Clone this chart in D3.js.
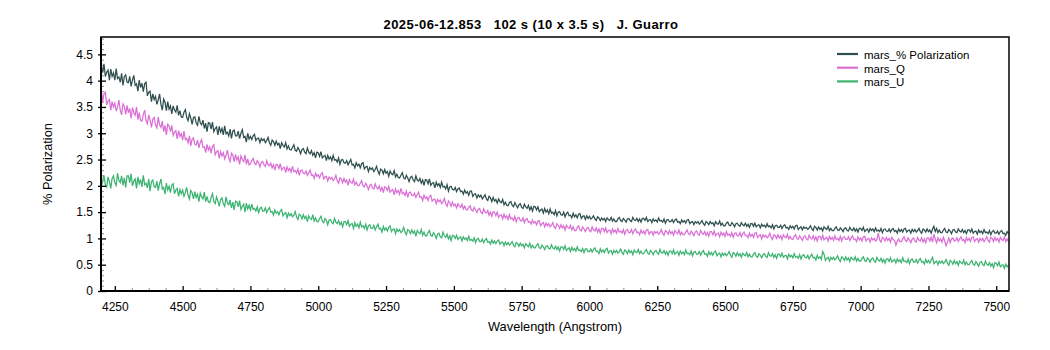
<!DOCTYPE html>
<html>
<head>
<meta charset="utf-8">
<script src="https://cdn.jsdelivr.net/npm/d3@7/dist/d3.min.js"></script>
<style>
  html, body { margin: 0; padding: 0; background: #ffffff; }
  svg { display: block; }
  text { font-family: "Liberation Sans", Arial, sans-serif; fill: #000; }
</style>
</head>
<body>
<svg id="chart" width="1050" height="350"></svg>
<script>
// ---------------- DATA ----------------
const titleText = "2025-06-12.853   102 s (10 x 3.5 s)   J. Guarro";
const xTitle = "Wavelength (Angstrom)";
const yTitle = "% Polarization";
const seriesNames = ["mars_% Polarization", "mars_Q", "mars_U"];
const wlStart = 4200;   // first sample wavelength (Angstrom)
const wlStep = 5;       // sampling step (Angstrom); one row below = 50 Angstrom

const polValues = [
  4.29,4.15,4.32,4.08,4.16,4.20,4.01,4.22,4.08,4.15,
  4.01,4.23,4.04,4.07,3.97,4.14,3.91,4.08,4.11,3.97,
  3.96,4.08,3.89,4.01,4.10,3.91,3.94,3.80,4.01,3.87,
  3.95,3.79,3.94,3.97,3.71,3.78,3.80,3.60,3.75,3.64,
  3.70,3.55,3.63,3.75,3.55,3.44,3.65,3.59,3.43,3.60,
  3.46,3.52,3.37,3.52,3.44,3.40,3.53,3.34,3.43,3.31,
  3.30,3.40,3.45,3.30,3.24,3.37,3.29,3.17,3.30,3.31,
  3.19,3.15,3.32,3.20,3.16,3.25,3.09,3.19,3.03,3.20,
  3.19,3.08,3.21,3.03,3.09,3.12,2.97,3.13,3.02,3.09,
  2.97,3.14,2.99,3.02,2.95,3.08,2.90,3.04,3.06,2.95,
  2.95,3.04,2.90,3.00,3.07,2.92,2.94,2.83,3.00,2.89,
  2.94,2.88,2.95,2.98,2.86,2.90,2.91,2.82,2.90,2.86,
  2.89,2.82,2.86,2.92,2.82,2.77,2.87,2.84,2.77,2.85,
  2.78,2.81,2.71,2.82,2.77,2.74,2.82,2.70,2.76,2.69,
  2.68,2.73,2.78,2.68,2.66,2.73,2.68,2.61,2.69,2.71,
  2.64,2.61,2.72,2.64,2.61,2.67,2.58,2.63,2.53,2.64,
  2.63,2.56,2.65,2.53,2.56,2.58,2.48,2.58,2.51,2.55,
  2.48,2.58,2.49,2.50,2.45,2.53,2.41,2.49,2.50,2.44,
  2.43,2.48,2.40,2.45,2.50,2.40,2.41,2.34,2.44,2.38,
  2.41,2.34,2.42,2.44,2.32,2.36,2.37,2.27,2.35,2.31,
  2.34,2.27,2.31,2.37,2.28,2.22,2.32,2.30,2.23,2.31,
  2.24,2.27,2.18,2.28,2.23,2.21,2.29,2.17,2.22,2.16,
  2.15,2.20,2.25,2.15,2.13,2.20,2.15,2.08,2.16,2.18,
  2.11,2.08,2.19,2.11,2.09,2.14,2.05,2.11,2.01,2.12,
  2.11,2.04,2.13,2.01,2.05,2.06,1.96,2.07,2.00,2.04,
  1.97,2.07,1.98,1.99,1.94,2.02,1.90,1.98,1.99,1.93,
  1.92,1.97,1.89,1.94,1.96,1.89,1.90,1.84,1.92,1.86,
  1.89,1.82,1.90,1.90,1.80,1.84,1.85,1.77,1.83,1.79,
  1.82,1.75,1.79,1.83,1.75,1.72,1.80,1.77,1.70,1.78,
  1.71,1.74,1.67,1.75,1.70,1.68,1.74,1.64,1.69,1.63,
  1.62,1.68,1.70,1.63,1.60,1.68,1.63,1.58,1.64,1.66,
  1.59,1.57,1.65,1.60,1.57,1.63,1.54,1.60,1.52,1.61,
  1.60,1.54,1.60,1.51,1.54,1.56,1.48,1.57,1.50,1.54,
  1.47,1.56,1.48,1.50,1.45,1.53,1.43,1.50,1.51,1.45,
  1.44,1.50,1.41,1.47,1.50,1.43,1.44,1.39,1.48,1.41,
  1.45,1.39,1.46,1.47,1.38,1.42,1.43,1.36,1.43,1.38,
  1.42,1.37,1.39,1.43,1.37,1.34,1.41,1.39,1.34,1.39,
  1.35,1.38,1.32,1.39,1.36,1.34,1.40,1.33,1.37,1.32,
  1.32,1.37,1.40,1.34,1.32,1.38,1.35,1.31,1.37,1.38,
  1.34,1.32,1.40,1.35,1.34,1.38,1.32,1.37,1.31,1.38,
  1.38,1.34,1.40,1.32,1.35,1.36,1.30,1.37,1.33,1.35,
  1.31,1.39,1.33,1.34,1.31,1.37,1.29,1.35,1.36,1.32,
  1.32,1.36,1.30,1.35,1.37,1.31,1.32,1.28,1.35,1.31,
  1.34,1.29,1.35,1.36,1.28,1.31,1.32,1.26,1.32,1.29,
  1.32,1.27,1.30,1.34,1.28,1.25,1.32,1.30,1.26,1.32,
  1.28,1.30,1.24,1.32,1.28,1.27,1.33,1.25,1.29,1.24,
  1.24,1.29,1.31,1.25,1.24,1.30,1.27,1.22,1.28,1.29,
  1.25,1.23,1.30,1.26,1.24,1.29,1.23,1.27,1.21,1.28,
  1.28,1.23,1.29,1.22,1.25,1.26,1.20,1.27,1.23,1.25,
  1.21,1.28,1.22,1.24,1.20,1.26,1.18,1.24,1.25,1.21,
  1.21,1.25,1.19,1.24,1.26,1.20,1.21,1.17,1.24,1.20,
  1.23,1.18,1.24,1.25,1.17,1.20,1.22,1.16,1.22,1.19,
  1.21,1.17,1.20,1.24,1.18,1.15,1.23,1.21,1.16,1.22,
  1.17,1.20,1.14,1.22,1.19,1.17,1.23,1.15,1.19,1.15,
  1.15,1.19,1.22,1.16,1.15,1.20,1.17,1.13,1.19,1.20,
  1.15,1.14,1.21,1.17,1.15,1.20,1.14,1.18,1.12,1.19,
  1.19,1.15,1.21,1.13,1.16,1.18,1.12,1.19,1.15,1.18,
  1.13,1.20,1.14,1.16,1.13,1.19,1.11,1.17,1.18,1.14,
  1.13,1.18,1.12,1.17,1.19,1.13,1.15,1.10,1.18,1.13,
  1.17,1.12,1.18,1.19,1.12,1.15,1.16,1.10,1.17,1.13,
  1.17,1.12,1.15,1.19,1.13,1.10,1.18,1.16,1.12,1.18,
  1.13,1.16,1.10,1.18,1.23,1.13,1.19,1.11,1.16,1.11,
  1.11,1.16,1.19,1.12,1.11,1.17,1.14,1.09,1.16,1.17,
  1.12,1.11,1.18,1.14,1.12,1.17,1.11,1.15,1.09,1.16,
  1.16,1.12,1.18,1.10,1.13,1.14,1.08,1.16,1.11,1.14,
  1.09,1.17,1.11,1.12,1.09,1.15,1.07,1.13,1.15,1.10,
  1.10,1.14,1.08,1.13,1.15,1.09,1.10,1.06,1.13,1.09
];

const qValues = [
  3.85,3.59,3.75,3.78,3.54,3.61,3.64,3.44,3.60,3.50,
  3.57,3.42,3.50,3.63,3.44,3.35,3.56,3.51,3.36,3.53,
  3.39,3.47,3.28,3.49,3.39,3.34,3.50,3.26,3.39,3.24,
  3.23,3.36,3.44,3.24,3.18,3.35,3.25,3.11,3.27,3.30,
  3.16,3.10,3.31,3.16,3.11,3.23,3.03,3.15,2.97,3.17,
  3.14,3.03,3.15,2.96,3.02,3.05,2.89,3.05,2.94,2.99,
  2.87,3.04,2.88,2.90,2.82,2.95,2.76,2.89,2.91,2.79,
  2.78,2.87,2.72,2.82,2.88,2.73,2.74,2.63,2.79,2.68,
  2.74,2.62,2.75,2.78,2.59,2.65,2.67,2.52,2.65,2.57,
  2.63,2.51,2.58,2.68,2.53,2.46,2.62,2.58,2.46,2.60,
  2.49,2.55,2.41,2.57,2.50,2.46,2.59,2.41,2.51,2.40,
  2.42,2.48,2.52,2.43,2.40,2.48,2.44,2.36,2.45,2.46,
  2.40,2.37,2.48,2.40,2.38,2.43,2.34,2.40,2.30,2.41,
  2.40,2.33,2.42,2.30,2.34,2.35,2.25,2.36,2.29,2.33,
  2.26,2.37,2.27,2.29,2.24,2.32,2.20,2.29,2.30,2.24,
  2.23,2.28,2.20,2.25,2.30,2.20,2.21,2.14,2.24,2.18,
  2.21,2.15,2.22,2.25,2.13,2.17,2.18,2.09,2.17,2.13,
  2.16,2.10,2.13,2.20,2.10,2.05,2.15,2.13,2.06,2.14,
  2.07,2.11,2.01,2.12,2.07,2.05,2.13,2.02,2.07,2.01,
  2.00,2.05,2.10,2.00,1.98,2.05,2.00,1.93,2.01,2.03,
  1.96,1.94,2.04,1.97,1.94,2.00,1.91,1.97,1.87,1.98,
  1.97,1.91,1.99,1.88,1.91,1.93,1.83,1.94,1.87,1.91,
  1.84,1.95,1.85,1.87,1.82,1.90,1.78,1.87,1.88,1.82,
  1.81,1.86,1.78,1.83,1.88,1.78,1.79,1.72,1.82,1.76,
  1.79,1.72,1.80,1.82,1.71,1.74,1.75,1.66,1.74,1.70,
  1.73,1.66,1.70,1.76,1.66,1.61,1.71,1.68,1.61,1.69,
  1.62,1.65,1.58,1.66,1.62,1.59,1.65,1.56,1.61,1.55,
  1.54,1.59,1.62,1.54,1.52,1.59,1.54,1.49,1.55,1.57,
  1.50,1.47,1.56,1.50,1.48,1.53,1.44,1.50,1.42,1.51,
  1.50,1.43,1.50,1.40,1.44,1.45,1.37,1.46,1.39,1.43,
  1.36,1.45,1.37,1.39,1.34,1.42,1.32,1.39,1.40,1.34,
  1.33,1.39,1.30,1.36,1.38,1.31,1.32,1.27,1.35,1.29,
  1.32,1.26,1.33,1.34,1.24,1.28,1.30,1.22,1.29,1.24,
  1.28,1.22,1.25,1.30,1.22,1.19,1.28,1.25,1.19,1.26,
  1.20,1.24,1.16,1.25,1.21,1.19,1.25,1.16,1.22,1.15,
  1.15,1.21,1.24,1.16,1.14,1.22,1.18,1.13,1.19,1.21,
  1.15,1.13,1.22,1.16,1.14,1.20,1.12,1.18,1.10,1.19,
  1.19,1.13,1.20,1.11,1.15,1.16,1.09,1.18,1.12,1.16,
  1.10,1.19,1.12,1.14,1.10,1.17,1.08,1.15,1.17,1.11,
  1.11,1.17,1.09,1.15,1.18,1.11,1.12,1.07,1.16,1.10,
  1.14,1.08,1.16,1.17,1.08,1.12,1.13,1.06,1.13,1.10,
  1.13,1.08,1.11,1.17,1.09,1.06,1.15,1.13,1.08,1.15,
  1.09,1.13,1.06,1.15,1.11,1.09,1.16,1.07,1.12,1.07,
  1.07,1.12,1.16,1.09,1.07,1.14,1.10,1.05,1.12,1.14,
  1.08,1.06,1.15,1.10,1.08,1.13,1.06,1.11,1.04,1.13,
  1.13,1.07,1.14,1.05,1.09,1.10,1.03,1.12,1.06,1.10,
  1.04,1.13,1.06,1.08,1.04,1.11,1.02,1.09,1.11,1.05,
  1.05,1.11,1.03,1.09,1.12,1.05,1.06,1.01,1.10,1.04,
  1.08,1.02,1.10,1.11,1.02,1.05,1.07,0.99,1.07,1.03,
  1.06,1.01,1.04,1.10,1.02,0.98,1.07,1.05,1.00,1.07,
  1.01,1.05,0.98,1.07,1.03,1.01,1.08,0.99,1.04,0.99,
  0.98,1.04,1.07,1.00,0.98,1.05,1.01,0.96,1.03,1.05,
  0.99,0.97,1.06,1.01,0.99,1.05,0.97,1.03,0.95,1.04,
  1.04,0.98,1.06,0.97,1.00,1.02,0.95,1.04,0.98,1.02,
  0.96,1.05,0.98,1.00,0.96,1.04,0.95,1.02,1.03,0.98,
  0.98,1.03,0.96,1.01,1.05,0.98,0.99,0.94,1.03,0.97,
  1.01,0.95,1.03,1.04,0.95,0.99,1.00,0.93,1.01,0.97,
  1.00,0.95,0.98,1.10,0.97,0.93,1.02,1.00,0.95,1.02,
  0.96,1.00,0.93,1.02,0.98,0.96,0.87,0.94,0.99,0.94,
  0.94,0.99,1.03,0.96,0.94,1.01,0.97,0.92,0.99,1.01,
  0.95,0.93,1.02,0.97,0.95,1.01,0.93,0.99,0.92,1.01,
  1.01,0.95,1.02,0.93,1.08,0.99,0.92,1.01,0.95,0.99,
  0.93,1.02,0.95,0.86,0.93,1.01,0.92,0.99,1.01,0.95,
  0.96,1.01,0.94,0.99,1.03,0.96,0.98,0.92,1.02,0.96,
  1.00,0.94,1.02,1.03,0.94,0.98,1.00,0.93,1.00,0.96,
  1.00,0.94,0.98,1.03,0.96,0.93,1.02,1.00,0.94,1.02,
  0.96,1.00,0.93,1.02,0.98,0.96,1.03,0.94,0.99,0.94
];

const uValues = [
  1.96,2.10,2.20,2.02,1.98,2.17,2.08,1.95,2.14,2.19,
  2.06,2.01,2.24,2.10,2.06,2.19,2.01,2.15,1.97,2.19,
  2.19,2.06,2.23,2.00,2.09,2.13,1.95,2.17,2.04,2.12,
  1.98,2.20,2.02,2.05,1.96,2.13,1.90,2.08,2.11,1.98,
  1.97,2.09,1.91,2.04,2.13,1.94,1.97,1.84,2.05,1.92,
  1.99,1.87,2.01,2.04,1.85,1.92,1.95,1.80,1.93,1.85,
  1.92,1.80,1.87,1.97,1.82,1.75,1.91,1.87,1.75,1.89,
  1.78,1.84,1.70,1.86,1.79,1.75,1.88,1.70,1.80,1.69,
  1.68,1.78,1.85,1.70,1.66,1.79,1.71,1.61,1.74,1.77,
  1.66,1.61,1.79,1.67,1.64,1.73,1.58,1.69,1.54,1.71,
  1.70,1.60,1.72,1.55,1.61,1.65,1.50,1.67,1.56,1.63,
  1.54,1.65,1.55,1.57,1.52,1.60,1.49,1.57,1.59,1.52,
  1.52,1.58,1.49,1.55,1.59,1.50,1.51,1.44,1.54,1.48,
  1.51,1.45,1.52,1.55,1.43,1.47,1.49,1.39,1.48,1.43,
  1.47,1.41,1.44,1.51,1.41,1.36,1.46,1.44,1.37,1.45,
  1.38,1.42,1.32,1.43,1.38,1.36,1.45,1.33,1.39,1.32,
  1.32,1.38,1.42,1.33,1.30,1.38,1.34,1.26,1.35,1.36,
  1.30,1.28,1.38,1.31,1.28,1.34,1.26,1.31,1.22,1.32,
  1.32,1.26,1.34,1.23,1.27,1.28,1.19,1.30,1.23,1.27,
  1.20,1.31,1.22,1.24,1.19,1.27,1.16,1.24,1.26,1.19,
  1.19,1.25,1.16,1.22,1.27,1.18,1.19,1.12,1.23,1.16,
  1.20,1.14,1.21,1.24,1.13,1.17,1.18,1.09,1.18,1.13,
  1.17,1.11,1.14,1.21,1.12,1.07,1.17,1.15,1.09,1.16,
  1.10,1.14,1.04,1.15,1.11,1.09,1.17,1.06,1.12,1.05,
  1.05,1.11,1.15,1.06,1.04,1.11,1.07,1.00,1.08,1.10,
  1.03,1.01,1.12,1.05,1.02,1.08,0.99,1.05,0.96,1.06,
  1.05,1.00,1.06,0.98,1.01,1.03,0.95,1.03,0.98,1.01,
  0.96,1.04,0.96,0.98,0.95,1.01,0.92,0.99,1.00,0.94,
  0.94,0.99,0.92,0.97,1.00,0.93,0.94,0.89,0.97,0.91,
  0.95,0.90,0.95,0.97,0.89,0.92,0.93,0.86,0.93,0.88,
  0.92,0.87,0.90,0.94,0.87,0.84,0.92,0.90,0.85,0.91,
  0.86,0.89,0.82,0.90,0.87,0.84,0.91,0.82,0.87,0.82,
  0.82,0.87,0.90,0.82,0.81,0.87,0.84,0.79,0.85,0.86,
  0.81,0.80,0.88,0.82,0.80,0.85,0.79,0.84,0.76,0.84,
  0.84,0.79,0.86,0.77,0.80,0.82,0.75,0.83,0.77,0.81,
  0.76,0.84,0.77,0.78,0.75,0.81,0.73,0.80,0.80,0.75,
  0.75,0.80,0.74,0.79,0.82,0.75,0.76,0.71,0.80,0.74,
  0.78,0.73,0.79,0.81,0.72,0.76,0.77,0.70,0.77,0.73,
  0.77,0.72,0.75,0.80,0.73,0.70,0.78,0.76,0.71,0.78,
  0.73,0.76,0.69,0.78,0.74,0.73,0.79,0.71,0.76,0.71,
  0.71,0.76,0.79,0.72,0.70,0.77,0.74,0.69,0.75,0.77,
  0.72,0.70,0.79,0.73,0.72,0.77,0.70,0.75,0.68,0.76,
  0.76,0.71,0.78,0.70,0.73,0.75,0.68,0.76,0.71,0.74,
  0.69,0.78,0.71,0.72,0.69,0.76,0.67,0.74,0.75,0.70,
  0.70,0.75,0.68,0.74,0.77,0.70,0.71,0.66,0.75,0.69,
  0.73,0.68,0.74,0.76,0.67,0.71,0.72,0.65,0.72,0.68,
  0.72,0.67,0.70,0.75,0.68,0.64,0.73,0.71,0.66,0.73,
  0.67,0.71,0.64,0.72,0.69,0.67,0.73,0.65,0.70,0.65,
  0.65,0.70,0.73,0.66,0.64,0.71,0.68,0.63,0.69,0.71,
  0.66,0.64,0.73,0.67,0.66,0.71,0.64,0.69,0.62,0.70,
  0.70,0.65,0.72,0.64,0.67,0.68,0.61,0.70,0.65,0.68,
  0.63,0.71,0.64,0.66,0.62,0.69,0.61,0.67,0.69,0.64,
  0.63,0.68,0.61,0.66,0.70,0.63,0.64,0.59,0.68,0.62,
  0.65,0.60,0.75,0.70,0.58,0.62,0.64,0.57,0.64,0.60,
  0.64,0.59,0.62,0.67,0.60,0.56,0.65,0.63,0.58,0.65,
  0.59,0.63,0.56,0.64,0.61,0.59,0.65,0.57,0.62,0.57,
  0.57,0.62,0.65,0.58,0.56,0.63,0.60,0.55,0.61,0.63,
  0.57,0.55,0.64,0.59,0.57,0.62,0.55,0.60,0.53,0.61,
  0.61,0.56,0.63,0.55,0.58,0.60,0.53,0.61,0.56,0.59,
  0.54,0.63,0.56,0.57,0.54,0.61,0.52,0.59,0.61,0.55,
  0.55,0.60,0.53,0.59,0.62,0.55,0.56,0.51,0.60,0.54,
  0.58,0.53,0.59,0.64,0.52,0.55,0.57,0.50,0.57,0.53,
  0.57,0.52,0.55,0.60,0.53,0.49,0.58,0.56,0.51,0.58,
  0.52,0.56,0.49,0.57,0.54,0.52,0.59,0.50,0.55,0.50,
  0.50,0.55,0.58,0.51,0.49,0.56,0.52,0.47,0.54,0.56,
  0.50,0.48,0.57,0.51,0.49,0.54,0.47,0.52,0.44,0.54,
  0.53,0.48,0.55,0.46,0.49,0.50,0.43,0.51,0.46,0.49
];

const xTickValues = [4250,4500,4750,5000,5250,5500,5750,6000,6250,6500,6750,7000,7250,7500];
const xTickLabels = ["4250","4500","4750","5000","5250","5500","5750","6000","6250","6500","6750","7000","7250","7500"];
const yTickValues = [0,0.5,1,1.5,2,2.5,3,3.5,4,4.5];
const yTickLabels = ["0","0.5","1","1.5","2","2.5","3","3.5","4","4.5"];
const xDomain = [4199, 7547];
const yDomain = [0, 4.83];
const xMinorStep = 62.5;
const yMinorStep = 0.1;
const colors = ["#2F4F4F", "#DA70D6", "#3CB371"];

// ---------------- CHART ----------------
const plot = { left: 101, top: 37, right: 1009, bottom: 291 };

const svg = d3.select("#chart");
const x = d3.scaleLinear().domain(xDomain).range([plot.left, plot.right]);
const y = d3.scaleLinear().domain(yDomain).range([plot.bottom, plot.top]);

svg.append("defs").append("clipPath").attr("id", "clip")
  .append("rect")
  .attr("x", plot.left).attr("y", plot.top)
  .attr("width", plot.right - plot.left).attr("height", plot.bottom - plot.top);

// minor ticks
const xMinor = [];
for (let v = xTickValues[0]; v <= xDomain[1]; v += xMinorStep) {
  if (!xTickValues.some(t => Math.abs(t - v) < 1e-6)) xMinor.push(v);
}
const yMinor = [];
for (let k = 0; k * yMinorStep <= yDomain[1] + 1e-9; k++) {
  const v = +(k * yMinorStep).toFixed(2);
  if (!yTickValues.some(t => Math.abs(t - v) < 1e-6)) yMinor.push(v);
}

svg.append("g").attr("transform", `translate(0,${plot.bottom})`)
  .call(d3.axisBottom(x).tickValues(xMinor).tickSizeInner(-3).tickSizeOuter(0).tickFormat(""))
  .call(g => g.select(".domain").remove())
  .call(g => g.selectAll("line").attr("stroke", "#8c8c8c"));

svg.append("g").attr("transform", `translate(${plot.left},0)`)
  .call(d3.axisLeft(y).tickValues(yMinor).tickSizeInner(-3).tickSizeOuter(0).tickFormat(""))
  .call(g => g.select(".domain").remove())
  .call(g => g.selectAll("line").attr("stroke", "#8c8c8c"));

// series lines
const series = [polValues, qValues, uValues];
const line = d3.line()
  .x((d, i) => x(wlStart + i * wlStep))
  .y(d => y(d));

const lines = svg.append("g").attr("clip-path", "url(#clip)");
series.forEach((vals, si) => {
  lines.append("path")
    .datum(vals)
    .attr("fill", "none")
    .attr("stroke", colors[si])
    .attr("stroke-width", 1.25)
    .attr("stroke-linejoin", "miter")
    .attr("d", line);
});

// major ticks + labels
svg.append("g").attr("transform", `translate(0,${plot.bottom})`)
  .call(d3.axisBottom(x).tickValues(xTickValues).tickSizeInner(-5).tickSizeOuter(0)
    .tickPadding(11).tickFormat((d, i) => xTickLabels[i]))
  .call(g => g.select(".domain").remove())
  .call(g => g.selectAll("line").attr("stroke", "#000").attr("stroke-width", 1.3))
  .call(g => g.selectAll("text").attr("font-size", 12)
      .attr("font-family", "'Liberation Sans', Arial, sans-serif").attr("fill", "#000"));

svg.append("g").attr("transform", `translate(${plot.left},0)`)
  .call(d3.axisLeft(y).tickValues(yTickValues).tickSizeInner(-5).tickSizeOuter(0)
    .tickPadding(8).tickFormat((d, i) => yTickLabels[i]))
  .call(g => g.select(".domain").remove())
  .call(g => g.selectAll("line").attr("x1", -3).attr("stroke", "#000").attr("stroke-width", 1.3))
  .call(g => g.selectAll("text").attr("font-size", 12)
      .attr("font-family", "'Liberation Sans', Arial, sans-serif").attr("fill", "#000"));

// frame
svg.append("rect")
  .attr("x", plot.left).attr("y", plot.top)
  .attr("width", plot.right - plot.left).attr("height", plot.bottom - plot.top)
  .attr("fill", "none").attr("stroke", "#000").attr("stroke-width", 1.5);
svg.append("line")
  .attr("x1", plot.left).attr("x2", plot.left)
  .attr("y1", plot.top).attr("y2", plot.bottom)
  .attr("stroke", "#000").attr("stroke-width", 2);
svg.append("line")
  .attr("x1", plot.left).attr("x2", plot.right)
  .attr("y1", plot.bottom).attr("y2", plot.bottom)
  .attr("stroke", "#000").attr("stroke-width", 2);

// title
svg.append("text")
  .attr("x", 531).attr("y", 29)
  .attr("text-anchor", "middle")
  .attr("font-size", 13).attr("font-weight", "bold")
  .attr("letter-spacing", "0.45px")
  .style("white-space", "pre")
  .attr("xml:space", "preserve")
  .text(titleText);

// axis titles
svg.append("text")
  .attr("x", (plot.left + plot.right) / 2).attr("y", 331)
  .attr("text-anchor", "middle").attr("font-size", 12.8)
  .text(xTitle);

svg.append("text")
  .attr("transform", `translate(52,${(plot.top + plot.bottom) / 2}) rotate(-90)`)
  .attr("text-anchor", "middle").attr("font-size", 12.8)
  .text(yTitle);

// legend
const legend = svg.append("g");
seriesNames.forEach((name, i) => {
  const ly = 55 + i * 13.7;
  legend.append("line")
    .attr("x1", 837).attr("x2", 858)
    .attr("y1", ly - 1).attr("y2", ly - 1)
    .attr("stroke", colors[i]).attr("stroke-width", 2.2);
  legend.append("text")
    .attr("x", 864).attr("y", ly).attr("dy", "0.35em")
    .attr("font-size", 11.5)
    .text(name);
});
</script>
</body>
</html>
